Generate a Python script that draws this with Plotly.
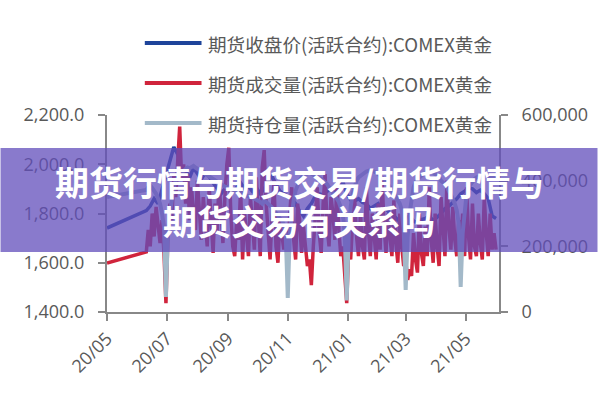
import pandas as pd
import plotly.graph_objects as go

# ---------------- data ----------------
first_date = ["2020-05-01"]
price_dates = first_date + [d.strftime("%Y-%m-%d") for d in pd.date_range("2020-06-10", "2021-06-01", freq="4D")]
flow_dates = first_date + [d.strftime("%Y-%m-%d") for d in pd.date_range("2020-06-10", "2021-06-01", freq="2D")]

close_price = [1741,
    1812, 1830, 1860, 1840, 1900, 1950, 2010, 2070, 2040, 1950,
    1975, 1945, 1985, 1960, 1940, 1965, 1950, 1925, 1900, 1880,
    1900, 1910, 1890, 1905, 1925, 1900, 1910, 1890, 1905, 1880,
    1900, 1935, 1950, 1920, 1890, 1880, 1870, 1860, 1840, 1810,
    1790, 1820, 1840, 1870, 1880, 1875, 1890, 1900, 1880, 1905,
    1930, 1880, 1855, 1850, 1860, 1845, 1840, 1820, 1830, 1840,
    1815, 1820, 1800, 1790, 1775, 1760, 1780, 1790, 1770, 1760,
    1775, 1780, 1790, 1770, 1785, 1800, 1820, 1830, 1845, 1860,
    1880, 1890, 1905, 1900, 1885, 1895, 1880, 1860, 1790, 1780]

volume = [149000,
    183000, 250000, 200000, 300000, 230000, 320000, 260000, 210000, 280000, 180000,
    27000,
    230000, 330000, 280000, 420000, 350000, 460000, 565000, 400000, 450000,
    330000, 420000, 280000, 380000, 300000, 250000, 400000, 320000, 220000, 350000,
    280000, 200000, 380000, 260000, 180000, 330000, 240000, 400000, 290000, 210000,
    350000, 450000, 500000, 300000, 200000, 170000, 280000, 220000, 380000, 160000,
    300000, 230000, 170000, 350000, 250000, 190000, 410000, 280000, 170000, 440000,
    493000, 330000, 240000, 160000, 300000, 400000, 200000, 150000, 280000, 230000,
    190000, 260000, 175000, 300000, 380000, 220000, 160000, 330000, 280000, 180000,
    260000, 200000, 140000, 160000, 82000, 200000, 300000, 380000, 240000, 180000,
    330000, 420000, 260000, 200000, 350000, 300000, 220000, 400000, 250000, 170000,
    200000, 120000, 27000, 190000, 160000, 280000, 350000, 230000, 170000, 300000,
    200000, 160000, 380000, 250000, 170000, 300000, 220000, 160000, 330000, 190000,
    410000, 260000, 180000, 300000, 230000, 170000, 340000, 210000, 150000, 300000,
    200000, 140000, 160000, 98000, 130000, 110000, 240000, 160000, 120000, 300000,
    180000, 140000, 260000, 170000, 380000, 220000, 150000, 300000, 200000, 140000,
    350000, 240000, 170000, 400000, 260000, 190000, 320000, 220000, 170000, 280000,
    190000, 300000, 170000, 380000, 230000, 160000, 330000, 200000, 170000, 300000,
    210000, 160000, 350000, 240000, 170000, 300000, 190000, 240000, 190000]

open_interest = [350000,
    372000, 380000, 385000, 378000, 370000, 360000, 345000, 330000, 300000, 260000,
    46000,
    240000, 300000, 350000, 380000, 400000, 410000, 420000, 425000, 430000,
    435000, 440000, 438000, 442000, 445000, 440000, 436000, 432000, 430000, 425000,
    420000, 418000, 415000, 410000, 405000, 400000, 398000, 395000, 390000, 385000,
    382000, 380000, 378000, 375000, 372000, 370000, 368000, 365000, 362000, 360000,
    358000, 355000, 352000, 350000, 348000, 345000, 342000, 340000, 335000, 330000,
    340000, 335000, 330000, 325000, 318000, 310000, 300000, 290000, 285000, 280000,
    265000, 230000, 43000, 240000, 300000, 340000, 370000, 390000, 400000, 410000,
    415000, 420000, 422000, 425000, 420000, 418000, 415000, 412000, 410000, 405000,
    400000, 395000, 390000, 380000, 372000, 365000, 355000, 345000, 335000, 320000,
    300000, 240000, 35000, 230000, 320000, 360000, 385000, 400000, 410000, 415000,
    420000, 425000, 428000, 430000, 432000, 430000, 428000, 425000, 420000, 415000,
    410000, 405000, 398000, 390000, 380000, 370000, 360000, 350000, 340000, 330000,
    310000, 250000, 67000, 230000, 300000, 350000, 380000, 395000, 405000, 410000,
    415000, 420000, 425000, 428000, 430000, 428000, 425000, 420000, 415000, 410000,
    400000, 395000, 390000, 380000, 370000, 360000, 345000, 330000, 310000, 270000,
    76000, 240000, 320000, 360000, 380000, 390000, 398000, 405000, 410000, 412000,
    415000, 418000, 420000, 418000, 415000, 412000, 410000, 408000, 405000]

series_names = ["期货收盘价(活跃合约):COMEX黄金",
                "期货成交量(活跃合约):COMEX黄金",
                "期货持仓量(活跃合约):COMEX黄金"]
series_colors = ["#1e449a", "#d0243c", "#a3b9c9"]

x_tick_vals = ["2020-05-01", "2020-07-01", "2020-09-01", "2020-11-01",
               "2021-01-01", "2021-03-01", "2021-05-01"]
x_tick_text = ["20/05", "20/07", "20/09", "20/11", "21/01", "21/03", "21/05"]

title_lines = ["期货行情与期货交易/期货行情与", "期货交易有关系吗"]

# ---------------- figure ----------------
W, H = 600, 400
L, R, T, B = 107, 99, 115, 88
pw, ph = W - L - R, H - T - B

def px(x):
    return (x - L) / pw

def py(y):
    return (H - B - y) / ph

fig = go.Figure()
fig.add_trace(go.Scatter(x=flow_dates, y=volume, name=series_names[1], yaxis="y2",
                         mode="lines", line=dict(color=series_colors[1], width=3.5)))
fig.add_trace(go.Scatter(x=flow_dates, y=open_interest, name=series_names[2], yaxis="y2",
                         mode="lines", line=dict(color=series_colors[2], width=4)))
fig.add_trace(go.Scatter(x=price_dates, y=close_price, name=series_names[0], yaxis="y",
                         mode="lines", line=dict(color=series_colors[0], width=3.5)))

axis_color = "#888888"
tick_font = dict(family="Open Sans, Noto Sans CJK SC", size=18, color="#595959")

fig.update_layout(
    width=W, height=H,
    margin=dict(l=L, r=R, t=T, b=B, pad=0),
    paper_bgcolor="white", plot_bgcolor="white",
    showlegend=False,
    xaxis=dict(type="date", range=["2020-05-01", "2021-06-04"],
               tickvals=x_tick_vals, ticktext=x_tick_text, tickangle=-45,
               showgrid=False, zeroline=False, showline=True,
               linecolor=axis_color, linewidth=2,
               ticks="outside", ticklen=7, tickwidth=2, tickcolor=axis_color,
               tickfont=tick_font),
    yaxis=dict(range=[1400, 2200], dtick=200, tickformat=",.1f",
               showgrid=False, zeroline=False, showline=True,
               linecolor=axis_color, linewidth=2,
               ticks="outside", ticklen=7, tickwidth=2, tickcolor=axis_color,
               tickfont=tick_font, ticklabelstandoff=10),
    yaxis2=dict(range=[0, 600000], dtick=200000, tickformat=",",
                overlaying="y", side="right",
                showgrid=False, zeroline=False, showline=True,
                linecolor=axis_color, linewidth=2,
                ticks="outside", ticklen=7, tickwidth=2, tickcolor=axis_color,
                tickfont=tick_font, ticklabelstandoff=10),
)

# manual legend
legend_rows = [43, 83, 123]
shapes = []
annotations = []
for name, color, ry in zip(series_names, series_colors, legend_rows):
    shapes.append(dict(type="line", xref="paper", yref="paper",
                       x0=px(145), x1=px(202), y0=py(ry), y1=py(ry),
                       line=dict(color=color, width=4), layer="above"))
    annotations.append(dict(text=name, xref="paper", yref="paper",
                            x=px(207), y=py(ry), xanchor="left", yanchor="middle",
                            showarrow=False,
                            font=dict(family="Noto Sans CJK SC", size=18.6, color="#595959")))

# purple banner
shapes.append(dict(type="rect", xref="paper", yref="paper",
                   x0=px(0), x1=px(600), y0=py(252), y1=py(148),
                   fillcolor="rgba(98,78,187,0.75)", line=dict(width=0), layer="above"))
for txt, cy in zip(title_lines, [181, 220]):
    annotations.append(dict(text=txt, xref="paper", yref="paper",
                            x=px(300), y=py(cy), xanchor="center", yanchor="middle",
                            showarrow=False,
                            font=dict(family="Noto Sans CJK SC", size=34, color="white",
                                      weight="bold")))

fig.update_layout(shapes=shapes, annotations=annotations)
fig.write_html("out.html")
